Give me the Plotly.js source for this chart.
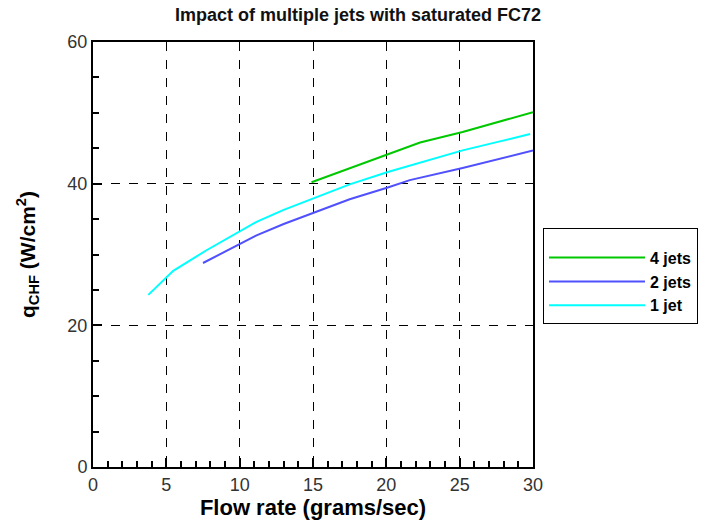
<!DOCTYPE html>
<html>
<head>
<meta charset="utf-8">
<script src="https://cdn.plot.ly/plotly-3.0.1.min.js"></script>
<style>html,body{margin:0;padding:0;background:#fff}</style>
</head>
<body>
<div id="chart" style="width:716px;height:525px"></div>
<script>
const seriesNames = ["4 jets", "2 jets", "1 jet"];
const seriesColors = ["#00c800", "#5050ff", "#00ffff"];

const x4 = [14.9, 17.5, 20.1, 22.3, 25.2, 27.6, 30];
const y4 = [40.2, 42.2, 44.2, 45.8, 47.3, 48.7, 50.1];

const x2 = [7.5, 10.0, 11.15, 13.0, 15.0, 17.5, 20.1, 21.6, 25.2, 27.6, 30];
const y2 = [28.8, 31.45, 32.7, 34.3, 35.9, 37.8, 39.45, 40.5, 42.2, 43.5, 44.7];

const x1 = [3.77, 5.47, 7.74, 10.0, 11.15, 13.0, 15.0, 17.5, 20.1, 22.5, 25.2, 27.6, 29.8];
const y1 = [24.3, 27.7, 30.6, 33.2, 34.6, 36.3, 37.9, 39.9, 41.65, 43.1, 44.7, 45.9, 47.0];

const xTicks = [0, 5, 10, 15, 20, 25, 30];
const yTicks = [0, 20, 40, 60];

const xs = [x4, x2, x1];
const ys = [y4, y2, y1];

const traces = seriesNames.map((n, i) => ({
  x: xs[i], y: ys[i], name: '<b>' + n + '</b>', type: 'scatter', mode: 'lines',
  line: {color: seriesColors[i], width: 2}
}));

const layout = {
  width: 716, height: 525,
  margin: {l: 93, r: 183, t: 42, b: 58, pad: 0},
  paper_bgcolor: '#fff', plot_bgcolor: '#fff',
  font: {family: 'Arial, Liberation Sans, sans-serif', color: '#000'},
  title: {text: '<b>Impact of multiple jets with saturated FC72</b>', x: 0.5, xref: 'container', xanchor: 'center', y: 0.972, yanchor: 'middle',
          font: {size: 18, color: '#111', family: 'Arial, Liberation Sans, sans-serif'}},
  xaxis: {
    range: [xTicks[0], xTicks[xTicks.length - 1]], tickmode: 'linear', tick0: xTicks[0], dtick: xTicks[1] - xTicks[0],
    showline: true, linecolor: '#000', linewidth: 2, mirror: true,
    ticks: 'inside', ticklen: 9, tickcolor: '#000', tickwidth: 2,
    minor: {tickmode: 'linear', dtick: 1, tick0: 0, ticks: 'inside', ticklen: 6, tickcolor: '#000', tickwidth: 1.5, showgrid: false},
    showgrid: true, gridcolor: '#000', griddash: 'dash', gridwidth: 1,
    zeroline: false,
    tickfont: {size: 18, color: '#333'},
    title: {text: '<b>Flow rate (grams/sec)</b>', font: {size: 22, color: '#000'}, standoff: 4}
  },
  yaxis: {
    range: [yTicks[0], yTicks[yTicks.length - 1]], tickmode: 'linear', tick0: yTicks[0], dtick: yTicks[1] - yTicks[0],
    showline: true, linecolor: '#000', linewidth: 2, mirror: true,
    ticks: 'inside', ticklen: 9, tickcolor: '#000', tickwidth: 2,
    minor: {tickmode: 'linear', dtick: 5, tick0: 0, ticks: 'inside', ticklen: 6, tickcolor: '#000', tickwidth: 1.5, showgrid: false},
    showgrid: true, gridcolor: '#000', griddash: 'dash', gridwidth: 1,
    zeroline: false,
    tickfont: {size: 18, color: '#333'},
    title: {text: '<b>q<sub>CHF</sub> (W/cm<sup>2</sup>)</b>', font: {size: 21, color: '#000'}, standoff: 26}
  },
  showlegend: true,
  legend: {
    x: 1.0227, y: 0.5624, xanchor: 'left', yanchor: 'top',
    bordercolor: '#000', borderwidth: 1, bgcolor: '#fff',
    font: {size: 16, color: '#000', family: 'Arial, Liberation Sans, sans-serif'},
    title: {text: ' ', font: {size: 9}},
    itemwidth: 96, traceorder: 'normal', tracegroupgap: 0
  }
};

Plotly.newPlot('chart', traces, layout, {displayModeBar: false});
</script>
</body>
</html>
